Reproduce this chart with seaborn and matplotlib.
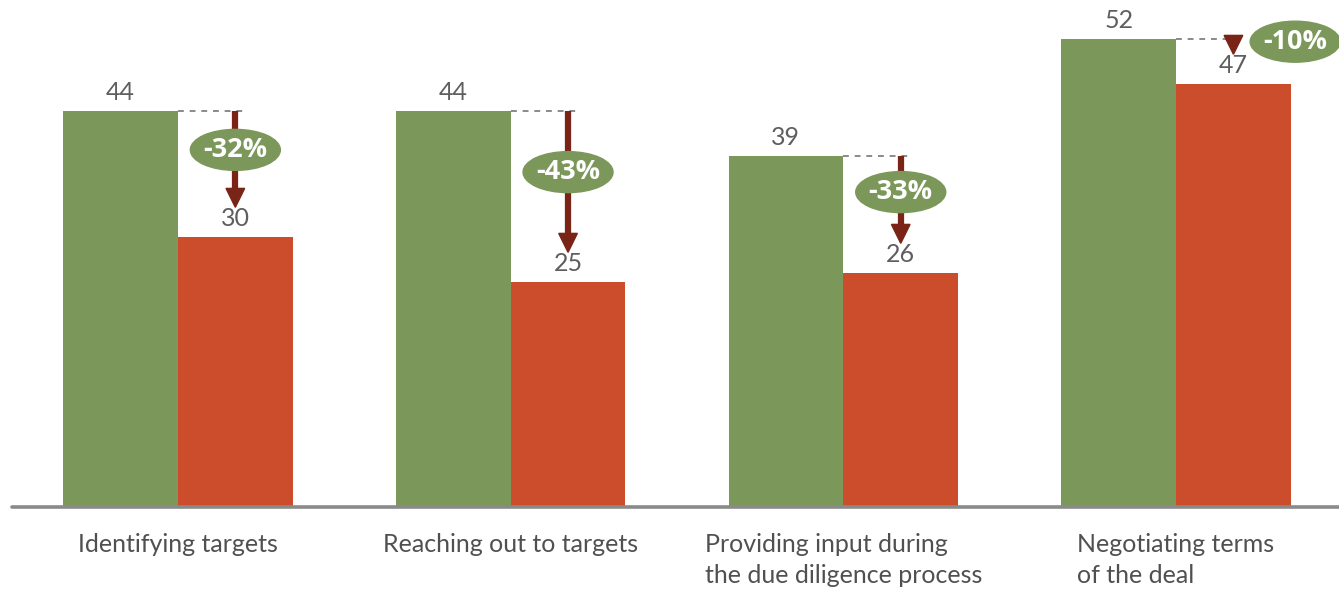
import numpy as np
import pandas as pd
import matplotlib
matplotlib.use("Agg")
import matplotlib.pyplot as plt
import seaborn as sns
from matplotlib.patches import Ellipse, Polygon

# data
categories = ["Identifying targets", "Reaching out to targets",
              "Providing input during\nthe due diligence process",
              "Negotiating terms\nof the deal"]
before = [44, 44, 39, 52]
after = [30, 25, 26, 47]
changes = ["-32%", "-43%", "-33%", "-10%"]

GREEN = "#7C975A"
RED = "#CB4D2B"
ARROW = "#7A2417"
GREY_TXT = "#5E5E5E"

df = pd.DataFrame({
    "category": categories * 2,
    "series": ["before"] * 4 + ["after"] * 4,
    "value": before + after,
})

sns.set_theme(style="white")
plt.rcParams["font.family"] = ["Lato", "DejaVu Sans"]

W, H = 1339, 591
fig = plt.figure(figsize=(W / 100, H / 100), dpi=100)
px_per_unit = 9.0
base_px = 507
ax = fig.add_axes([11.6 / W, (H - base_px) / H, 1 - 11.6 / W, base_px / H])

sns.barplot(data=df, x="category", y="value", hue="series",
            palette=[GREEN, RED], width=0.69, saturation=1, linewidth=0,
            dodge=True, legend=False, ax=ax)

ax.set_xlim(-0.5, -0.5 + (W - 11.6) / 332.7)
ax.set_ylim(0, base_px / px_per_unit)
ax.set_xlabel("")
ax.set_ylabel("")
ax.set_yticks([])
sns.despine(ax=ax, left=True, top=True, right=True, bottom=True)
ax.axhline(0, color="#8A8A8A", lw=2.6, clip_on=False, zorder=5)

ax.set_xticks(range(len(categories)))
ax.set_xticklabels(categories, fontsize=18, color="#505050",
                   multialignment="left", linespacing=1.42)
ax.tick_params(axis="x", length=0, pad=19)

half = 0.69 / 4
# badge placement (points below green top); last one sits to the right
badge_drop = [28, 44, 26, None]

for i in range(len(categories)):
    xg, xr = i - half, i + half
    ax.annotate(str(before[i]), (xg, before[i]), xytext=(0, 5),
                textcoords="offset points", ha="center", va="bottom",
                fontsize=18, color=GREY_TXT)
    ax.annotate(str(after[i]), (xr, after[i]), xytext=(0, 5),
                textcoords="offset points", ha="center", va="bottom",
                fontsize=18, color=GREY_TXT)

    # dashed guide from green top
    ax.plot([i, xr + 0.03], [before[i], before[i]], ls=(0, (3, 3)),
            color="#8A8A8A", lw=1.4, zorder=3)

    # arrow: shaft + head, ending 3.3 units above red bar
    tip = after[i] + 3.3
    head_len = 2.1
    head_w = 0.028
    if before[i] > tip + head_len:
        ax.plot([xr, xr], [before[i], tip + head_len], color=ARROW,
                lw=4.5, solid_capstyle="butt", zorder=4)
    ax.add_patch(Polygon([(xr - head_w, tip + head_len),
                          (xr + head_w, tip + head_len), (xr, tip)],
                         closed=True, color=ARROW, zorder=4))

    # percentage badge
    if badge_drop[i] is not None:
        bx = xr
        by = before[i] - badge_drop[i] * (100 / 72) / px_per_unit
    else:
        bx = i + 0.358
        by = before[i] - 0.3
    ax.add_patch(Ellipse((bx, by), 90 / 332.7, 41 / px_per_unit,
                         color=GREEN, zorder=6))
    ax.text(bx, by, changes[i], ha="center", va="center", fontsize=19.5,
            fontweight="bold", family=["Open Sans", "DejaVu Sans"],
            color="white", zorder=7)

fig.savefig("out.png", dpi=100)
plt.close()
